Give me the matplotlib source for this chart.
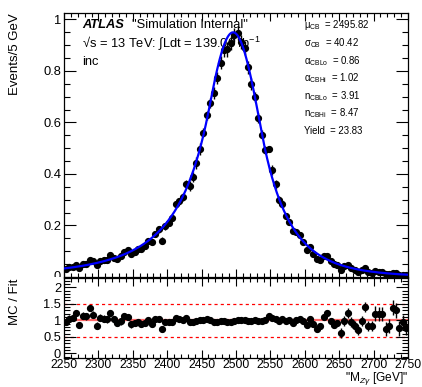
import numpy as np
import matplotlib
matplotlib.use("Agg")
import matplotlib.pyplot as plt
from matplotlib.ticker import MultipleLocator, FuncFormatter
from matplotlib.transforms import Bbox

plt.rcParams['font.family'] = ['Liberation Sans', 'DejaVu Sans']
plt.rcParams['mathtext.fontset'] = 'custom'
plt.rcParams['mathtext.rm'] = 'Liberation Sans'
plt.rcParams['mathtext.it'] = 'Liberation Sans:italic'
plt.rcParams['mathtext.bf'] = 'Liberation Sans:bold'

# ---- data ----
bin_lo = 2250
bin_width = 5
mc_values = [0.0321,0.0373,0.0404,0.0481,0.0357,0.0499,0.0517,0.0668,0.0603,0.0458,
             0.0623,0.0641,0.0667,0.0838,0.0751,0.0713,0.0800,0.0984,0.1031,0.0880,
             0.0973,0.1086,0.1078,0.1221,0.1410,0.1364,0.1681,0.1848,0.1406,0.1972,
             0.2114,0.2294,0.2834,0.2943,0.3117,0.3611,0.3544,0.3891,0.4415,0.4969,
             0.5603,0.6272,0.6763,0.7135,0.7721,0.8316,0.8818,0.8836,0.9089,0.9397,
             0.9465,0.9112,0.8900,0.8145,0.7487,0.6988,0.6168,0.5527,0.4926,0.4965,
             0.4166,0.3593,0.2979,0.2841,0.2364,0.2154,0.1791,0.1742,0.1624,0.1361,
             0.1062,0.1180,0.0892,0.0686,0.0678,0.0823,0.0820,0.0609,0.0486,0.0462,
             0.0282,0.0408,0.0472,0.0332,0.0262,0.0205,0.0265,0.0341,0.0189,0.0173,
             0.0227,0.0209,0.0192,0.0109,0.0112,0.0174,0.0151,0.0081,0.0094,0.0070]
mc_errors = [0.0034,0.0036,0.0037,0.0039,0.0042,0.0044,0.0046,0.0049,0.0052,0.0055,
             0.0058,0.0061,0.0065,0.0069,0.0073,0.0078,0.0083,0.0088,0.0094,0.0100,
             0.0075,0.0080,0.0086,0.0092,0.0099,0.0106,0.0114,0.0123,0.0133,0.0144,
             0.0111,0.0121,0.0131,0.0143,0.0156,0.0170,0.0187,0.0205,0.0225,0.0248,
             0.0165,0.0183,0.0203,0.0223,0.0241,0.0257,0.0270,0.0279,0.0284,0.0285,
             0.0281,0.0273,0.0262,0.0247,0.0229,0.0210,0.0189,0.0167,0.0148,0.0131,
             0.0193,0.0171,0.0152,0.0135,0.0121,0.0108,0.0096,0.0086,0.0077,0.0069,
             0.0112,0.0101,0.0091,0.0082,0.0074,0.0067,0.0061,0.0055,0.0050,0.0046,
             0.0069,0.0063,0.0057,0.0053,0.0048,0.0044,0.0040,0.0037,0.0034,0.0031,
             0.0042,0.0038,0.0035,0.0033,0.0030,0.0028,0.0026,0.0024,0.0022,0.0020]

# fit parameters (as shown on the chart)
mu_cb, sigma_cb = 2495.82, 40.42
alpha_lo, alpha_hi = 0.86, 1.02
n_lo, n_hi = 3.91, 8.47
yield_val = 23.83
peak_height = 0.95

param_labels = ["\u03bc$_{\\rm CB}$", "\u03c3$_{\\rm CB}$", "\u03b1$_{\\rm CBLo}$",
                "\u03b1$_{\\rm CBHi}$", "n$_{\\rm CBLo}$", "n$_{\\rm CBHi}$", "Yield"]
param_values = [mu_cb, sigma_cb, alpha_lo, alpha_hi, n_lo, n_hi, yield_val]


def dscb(x):
    t = (x - mu_cb) / sigma_cb
    out = np.exp(-0.5 * t * t)
    lo = t < -alpha_lo
    out[lo] = np.exp(-0.5 * alpha_lo**2) * (alpha_lo / n_lo * (n_lo / alpha_lo - alpha_lo - t[lo]))**(-n_lo)
    hi = t > alpha_hi
    out[hi] = np.exp(-0.5 * alpha_hi**2) * (alpha_hi / n_hi * (n_hi / alpha_hi - alpha_hi + t[hi]))**(-n_hi)
    return peak_height * out


mc = np.array(mc_values)
err = np.array(mc_errors)
xc = bin_lo + bin_width * (np.arange(len(mc)) + 0.5)
fit_c = dscb(xc)
ratio = mc / fit_c
ratio_err = err / fit_c
xf = np.linspace(2250, 2750, 1000)

# ---- figure ----
W, H = 422, 387
fig = plt.figure(figsize=(W / 100, H / 100), dpi=100)
L, R = 64 / W, 408 / W
ax = fig.add_axes([L, 1 - 277 / H, R - L, (277 - 13) / H])
axr = fig.add_axes([L, 1 - 358 / H, R - L, (358 - 278) / H])

ax.errorbar(xc, mc, yerr=err, fmt='o', color='black', ms=4.2, elinewidth=1.0,
            capsize=0, zorder=3)
ax.plot(xf, dscb(xf), color='#0000ff', lw=1.6, zorder=4)
ax.set_xlim(2250, 2750)
ax.set_ylim(0, 1.025)

axr.axhline(1.0, color='#ff6a6a', lw=1.6, zorder=1)
for yv in (0.5, 1.5):
    axr.axhline(yv, color='#ff0000', lw=0.9, ls=(0, (2.5, 2.5)), zorder=1)
axr.errorbar(xc, ratio, yerr=ratio_err, fmt='o', color='black', ms=4.2,
             elinewidth=1.0, capsize=0, zorder=3)
axr.set_xlim(2250, 2750)
axr.set_ylim(-0.14, 2.28)

fmt = FuncFormatter(lambda v, p: "%g" % round(v, 3))
for a in (ax, axr):
    a.xaxis.set_major_locator(MultipleLocator(50))
    a.xaxis.set_minor_locator(MultipleLocator(10))
    a.tick_params(axis='both', which='both', direction='in', top=True, right=True,
                  labelsize=9.3, width=0.8, colors='black', pad=2)
    for s in a.spines.values():
        s.set_linewidth(0.9)

ax.yaxis.set_major_locator(MultipleLocator(0.2))
ax.yaxis.set_minor_locator(MultipleLocator(0.05))
ax.yaxis.set_major_formatter(FuncFormatter(lambda v, p: "" if abs(v) < 1e-9 else "%g" % round(v, 3)))
ax.tick_params(axis='y', which='major', length=8.5)
ax.tick_params(axis='y', which='minor', length=4.3)
ax.tick_params(axis='x', which='major', length=5.5, labelbottom=False)
ax.tick_params(axis='x', which='minor', length=2.8)

axr.yaxis.set_major_locator(MultipleLocator(0.5))
axr.yaxis.set_minor_locator(MultipleLocator(0.1))
axr.yaxis.set_major_formatter(fmt)
axr.xaxis.set_major_formatter(fmt)
axr.tick_params(axis='y', which='major', length=8.5)
axr.tick_params(axis='y', which='minor', length=4.3)
axr.tick_params(axis='x', which='major', length=5.5, pad=1, labelsize=8.8)
axr.tick_params(axis='x', which='minor', length=2.8)

# clipped "0" label of the main panel (cut by the ratio pad)
z = fig.text(61 / W, 1 - 276.5 / H, "0", ha='right', va='center', fontsize=9.3)
z.set_clip_box(Bbox.from_extents(0, (H - 277), 64, H))
z.set_clip_on(True)

# axis titles
fig.text(15.5 / W, 1 - 13 / H, "Events/5 GeV", rotation=90, ha='center', va='top', fontsize=9.5)
fig.text(15.5 / W, 1 - 279 / H, "MC / Fit", rotation=90, ha='center', va='top', fontsize=9.5)
fig.text(408 / W, 1 - 387 / H, '"M$_{Z\\gamma}$ [GeV]"', ha='right', va='bottom', fontsize=8.6)

# labels in the main pad (drawn beneath the data)
tkw = dict(transform=fig.transFigure, zorder=1, va='center', fontsize=9.3)
ax.text(82 / W, 1 - 25 / H, "ATLAS", fontweight='bold', fontstyle='italic', **tkw)
ax.text(132 / W, 1 - 25 / H, '"Simulation Internal"', **tkw)
ax.text(82 / W, 1 - 43 / H, "\u221as = 13 TeV: \u222bLdt = 139.00 fb$^{-1}$", **tkw)
ax.text(82 / W, 1 - 62 / H, "inc", **tkw)

ys = [25, 43, 61, 78, 96, 113, 131]
for lab, val, yy in zip(param_labels, param_values, ys):
    ax.text(304 / W, 1 - yy / H, f"{lab}  = {val:.2f}", transform=fig.transFigure,
            zorder=1, va='center', fontsize=6.9)

fig.savefig("out.png", dpi=100)
